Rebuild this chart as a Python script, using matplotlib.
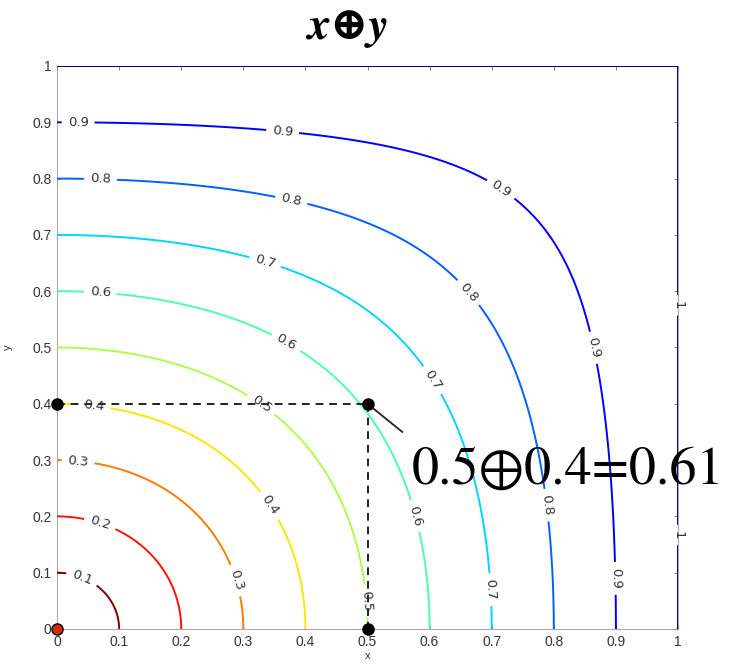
import numpy as np
import matplotlib
matplotlib.use("Agg")
import matplotlib.pyplot as plt

# Contour levels of z = x ⊕ y and the text drawn on each
levels = [0.1, 0.2, 0.3, 0.4, 0.5, 0.6, 0.7, 0.8, 0.9, 1.0]
level_text = ["0.1", "0.2", "0.3", "0.4", "0.5", "0.6", "0.7", "0.8", "0.9", "1"]

# Worked example marked on the plot
x_a = 0.5
y_b = 0.4
combined = 0.61

tick_values = [0, 0.1, 0.2, 0.3, 0.4, 0.5, 0.6, 0.7, 0.8, 0.9, 1.0]
tick_labels = ["0", "0.1", "0.2", "0.3", "0.4", "0.5", "0.6", "0.7", "0.8", "0.9", "1"]

# Where the inline contour labels sit (data coordinates)
label_spots = [
    (0.04, 0.09),
    (0.07, 0.19),
    (0.034, 0.298), (0.29, 0.087),
    (0.06, 0.40), (0.343, 0.22),
    (0.33, 0.40), (0.50, 0.05),
    (0.07, 0.60), (0.37, 0.51), (0.576, 0.20),
    (0.335, 0.652), (0.61, 0.446), (0.70, 0.07),
    (0.07, 0.80), (0.378, 0.765), (0.665, 0.60), (0.79, 0.22),
    (0.034, 0.905), (0.364, 0.892), (0.72, 0.79), (0.866, 0.50), (0.903, 0.09),
    (0.9999, 0.575), (0.9999, 0.167),
]

serif = ["STIXGeneral", "DejaVu Serif"]


def oplus(x, y):
    # composition law: 1 - z^2 = (1 - x^2)(1 - y^2)
    return np.sqrt(x ** 2 + y ** 2 - x ** 2 * y ** 2)


grid = np.linspace(0.0, 1.0, 601)
X, Y = np.meshgrid(grid, grid)
Z = oplus(X, Y)

# z reaches 1 only on the x = 1 / y = 1 edges; trace that level just inside
draw_levels = [min(v, 1.0 - 1e-7) for v in levels]
fmt = {d: t for d, t in zip(draw_levels, level_text)}

fig = plt.figure(figsize=(7.31, 6.68), dpi=100)
ax = fig.add_axes([0.078, 0.0584, 0.8495, 0.8428])

cs = ax.contour(X, Y, Z, levels=draw_levels, cmap="jet_r", vmin=0.1, vmax=1.0,
                linewidths=1.4, zorder=3)
labels = ax.clabel(cs, manual=label_spots, inline=True, inline_spacing=6,
                   fontsize=9.5, colors="#333333", fmt=fmt)
for t in labels:
    t.set_clip_on(False)

# Guides to the worked example
ax.plot([0, x_a], [y_b, y_b], ls=(0, (4, 3)), color="#222222", lw=1.4, zorder=4)
ax.plot([x_a, x_a], [y_b, 0], ls=(0, (4, 3)), color="#222222", lw=1.4, zorder=4)
ax.plot([0, x_a, x_a], [y_b, y_b, 0], "o", color="black", ms=8, clip_on=False, zorder=6)
ax.plot([0], [0], "o", mfc="#d42a14", mec="black", ms=8, clip_on=False, zorder=6)
ax.plot([x_a, 0.556], [y_b, 0.35], color="#222222", lw=1.3, zorder=5)

ax.text(0.572, 0.258, f"{x_a:g}\u2295{y_b:g}={combined:g}", family=serif,
        fontsize=39, color="black", ha="left", va="baseline", clip_on=False, zorder=7)

ax.set_xlim(0, 1)
ax.set_ylim(0, 1)
ax.set_xticks(tick_values)
ax.set_yticks(tick_values)
ax.set_xticklabels(tick_labels, family="Liberation Sans")
ax.set_yticklabels(tick_labels, family="Liberation Sans")
ax.tick_params(direction="in", length=3, width=0.8, color="#888888", labelsize=10,
               labelcolor="#333333", top=True, right=True, pad=4)
for name, s in ax.spines.items():
    s.set_color("#aaaaaa")
    s.set_linewidth(0.8)
    s.set_zorder(1)

ax.set_xlabel("x", family="Liberation Sans", fontsize=8, labelpad=2, color="#333333")
ax.set_ylabel("y", family="Liberation Sans", fontsize=8, labelpad=14, color="#333333")

fig.text(0.476, 0.958, "x\u2295y", family=serif, fontsize=33,
         fontweight="bold", fontstyle="italic", ha="center", va="center")

fig.savefig("out.png", dpi=100)
